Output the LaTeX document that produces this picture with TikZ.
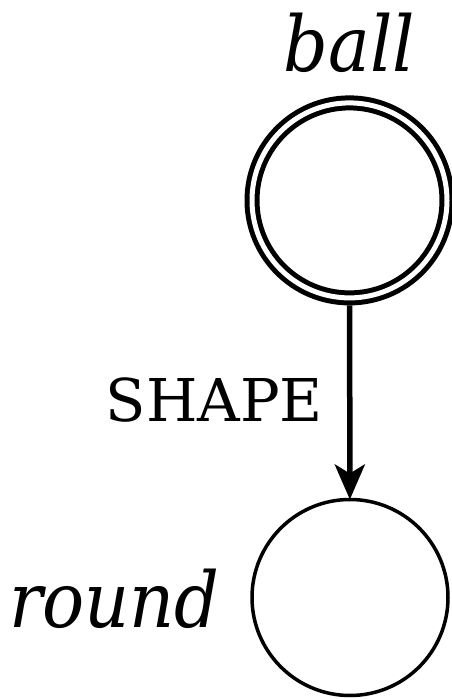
\documentclass[tikz,border=0pt]{standalone}
\usepackage{fontspec}
\setmainfont{DejaVu Serif}
\usetikzlibrary{arrows.meta}
\tikzset{
  state/.style={circle, draw, inner sep=0pt, minimum size=196pt, line width=3.5pt, outer sep=0pt},
  accept/.style={circle, draw, inner sep=0pt, minimum size=195pt, line width=5pt, double, double distance=5pt, outer sep=7.5pt},
  statelabel/.style={font=\fontsize{77}{80}\selectfont\itshape, inner sep=0pt},
  edgelabel/.style={font=\fontsize{59}{62}\selectfont, inner sep=0pt},
  transition/.style={line width=5.5pt, -{Stealth[length=35pt, width=30pt, inset=9pt]}}
}
\newcommand{\narrow}[1]{\scalebox{0.91}[1]{#1}}
\begin{document}
\begin{tikzpicture}[x=1pt,y=1pt]
\useasboundingbox (0,0) rectangle (452,699);
\node[accept] (ball) at (349.5,498.6) {};
\node[state] (round) at (350,101.5) {};
\node[statelabel, anchor=base] (balltext) at (349.5,627) {\narrow{ball}};
\node[statelabel, anchor=base east] (roundtext) at (220,71) {\narrow{round}};
\draw[transition] (ball) -- node[edgelabel, name=shape, pos=0.607, anchor=base east, xshift=-24pt, yshift=2pt] {SHAPE} (round);
\end{tikzpicture}
\end{document}
